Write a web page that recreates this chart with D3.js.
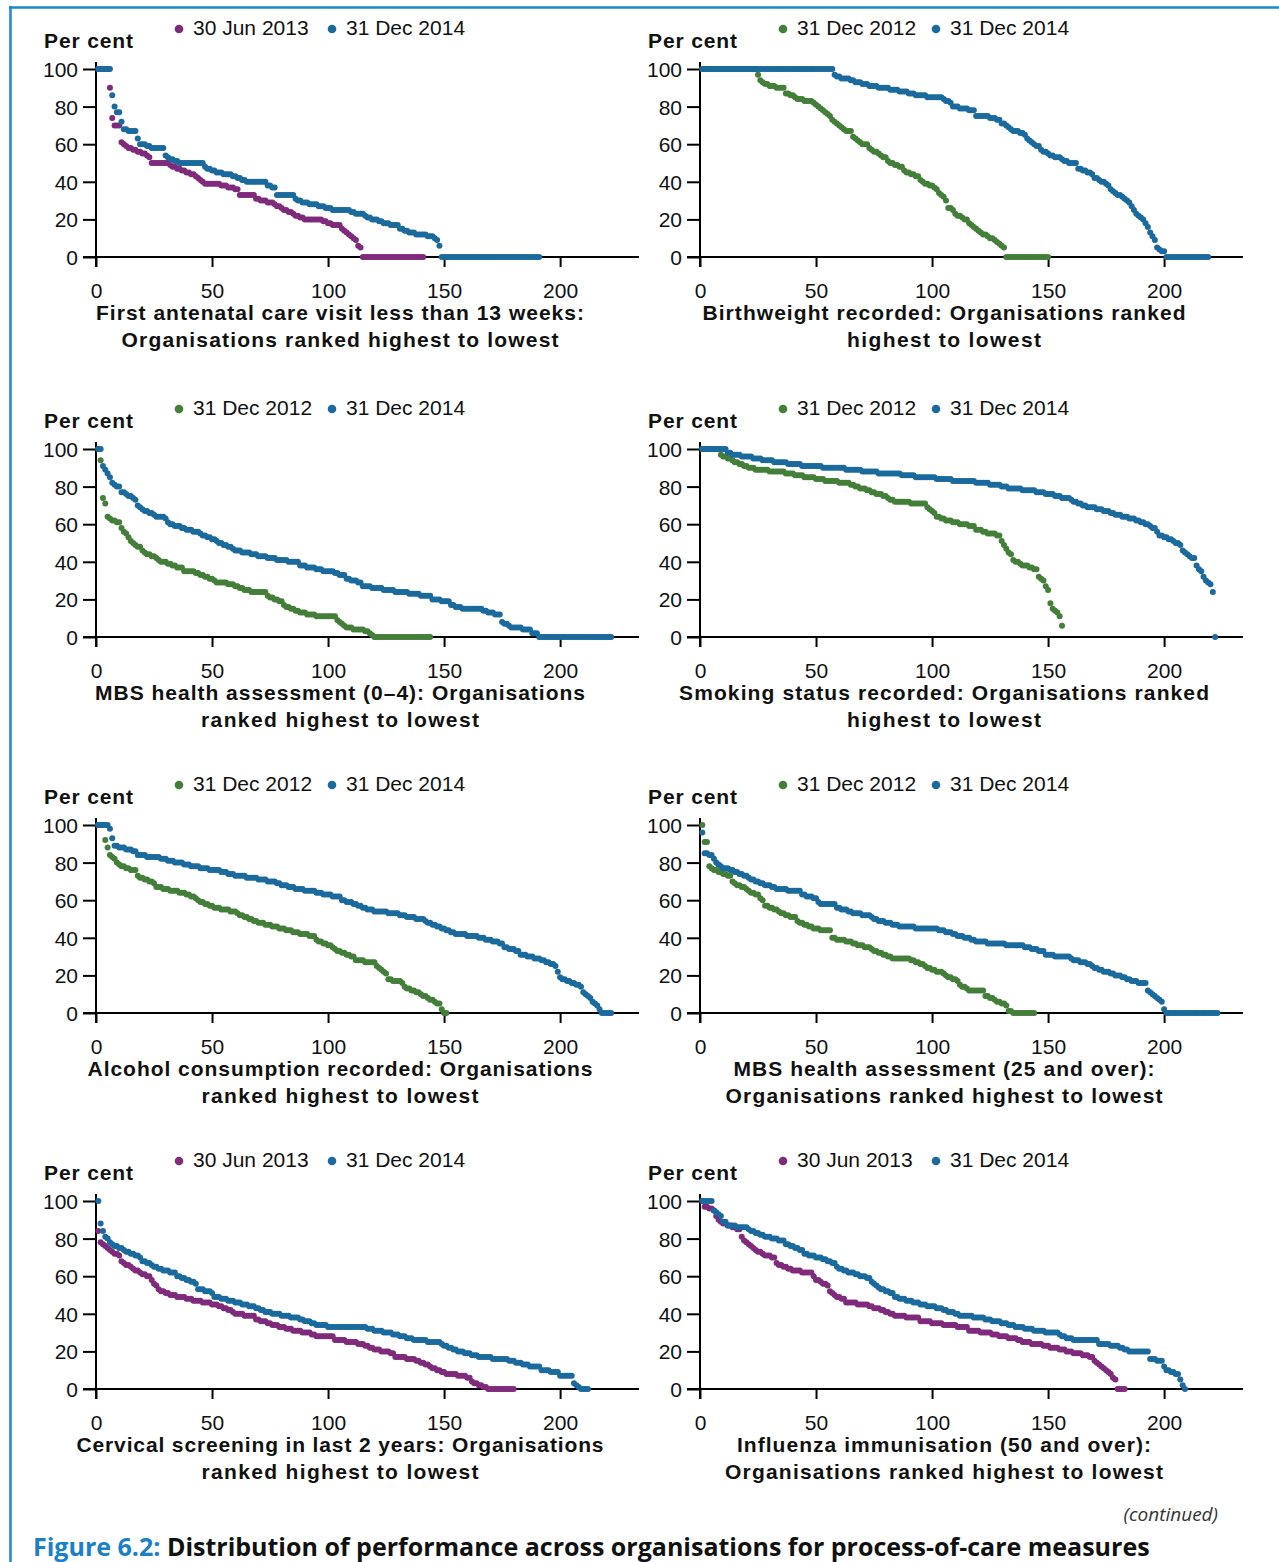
<!DOCTYPE html>
<html>
<head>
<meta charset="utf-8">
<script src="https://cdn.jsdelivr.net/npm/d3@7"></script>
<style>
  body { margin: 0; background: #fff; }
  svg { display: block; }
</style>
</head>
<body>
<svg id="chart" width="1279" height="1562"></svg>
<script>
// Distribution of performance across organisations - ranked dot plots
// Values are per cent for each organisation, ranked highest to lowest.
// [v, n] means the value v repeated for n organisations in a row.

const xTicks = [0, 50, 100, 150, 200];
const yTicks = [0, 20, 40, 60, 80, 100];

const panelTitles = [
    ['First antenatal care visit less than 13 weeks:', 'Organisations ranked highest to lowest'],
    ['Birthweight recorded: Organisations ranked', 'highest to lowest'],
    ['MBS health assessment (0\u20134): Organisations', 'ranked highest to lowest'],
    ['Smoking status recorded: Organisations ranked', 'highest to lowest'],
    ['Alcohol consumption recorded: Organisations', 'ranked highest to lowest'],
    ['MBS health assessment (25 and over):', 'Organisations ranked highest to lowest'],
    ['Cervical screening in last 2 years: Organisations', 'ranked highest to lowest'],
    ['Influenza immunisation (50 and over):', 'Organisations ranked highest to lowest']
];

const panelDates = [
    ['30 Jun 2013', '31 Dec 2014'],
    ['31 Dec 2012', '31 Dec 2014'],
    ['31 Dec 2012', '31 Dec 2014'],
    ['31 Dec 2012', '31 Dec 2014'],
    ['31 Dec 2012', '31 Dec 2014'],
    ['31 Dec 2012', '31 Dec 2014'],
    ['30 Jun 2013', '31 Dec 2014'],
    ['30 Jun 2013', '31 Dec 2014']
];

const antenatalJun13 = [[100,5],90,74,[70,3],61,60,59,58,58,57,57,56,56,55,55,54,53,[50,8],49,48,48,47,47,46,46,45,45,44,44,43,42,41,40,[39,7],38,38,38,37,37,37,36,36,[33,7],31,31,30,30,30,29,29,29,28,27,27,26,25,25,24,24,23,22,22,21,21,[20,8],19,19,18,18,[17,4],15,14,13,12,11,10,9,6,5,[0,27]];
const antenatalDec14 = [[100,6],86,80,77,77,72,68,68,67,67,67,67,63,60,60,60,59,59,[58,6],54,53,52,52,51,51,[50,11],48,47,47,46,46,45,45,45,44,44,44,44,43,43,42,42,41,41,[40,9],38,38,37,37,[33,8],31,30,30,29,29,29,28,28,28,28,27,27,27,26,26,26,25,[25,7],24,24,23,23,23,23,22,21,21,20,20,20,19,19,18,18,18,17,17,17,17,15,15,14,14,13,13,13,12,12,12,12,12,11,11,11,10,9,6,[0,43]];

const birthweightDec12 = [[100,24],97,94,93,92,92,91,91,91,90,90,90,90,87,87,86,86,85,84,84,84,83,83,83,83,82,81,80,79,78,77,76,75,73,72,71,70,69,68,67,67,67,64,63,62,61,60,60,60,58,57,56,56,55,54,53,53,51,50,50,49,49,48,48,46,45,45,44,44,43,43,41,40,39,39,38,38,37,36,34,33,32,30,26,26,25,23,22,22,21,20,20,18,17,16,15,14,13,12,12,11,10,10,9,8,7,6,5,[0,19]];
const birthweightDec14 = [[100,57],97,96,96,95,95,95,95,94,94,93,93,93,92,92,92,91,91,91,91,90,90,90,90,90,89,89,89,89,88,88,88,88,87,87,87,86,86,86,86,86,[85,7],84,83,83,82,80,80,80,79,79,79,79,78,78,78,75,75,75,75,75,75,74,74,74,73,73,71,71,70,69,68,67,67,67,66,66,65,63,62,61,60,59,59,57,56,56,55,54,54,53,53,53,52,51,51,50,50,50,50,47,47,46,46,45,45,44,42,42,41,40,40,39,38,36,35,34,33,33,32,31,30,29,27,25,23,22,21,20,18,16,13,11,9,5,4,3,3,[0,19]];

const mbs04Dec12 = [100,94,74,71,64,63,62,62,61,61,58,56,55,53,51,50,49,48,48,46,45,44,44,43,43,42,41,40,40,40,39,39,38,38,37,37,37,35,35,35,35,35,34,34,33,33,32,32,31,31,30,29,29,29,29,29,28,28,28,27,27,26,26,25,25,25,[24,7],22,21,21,20,20,19,19,17,16,16,15,15,14,14,13,13,13,12,12,12,12,11,[11,8],9,8,7,6,5,5,5,4,4,4,4,4,3,3,2,1,[0,25]];
const mbs04Dec14 = [100,100,91,89,87,85,82,81,80,80,77,77,76,75,75,74,73,70,69,68,67,67,66,66,65,64,64,64,64,63,61,60,60,59,59,59,58,58,57,57,57,56,56,56,55,54,54,53,53,52,52,51,50,50,49,49,48,48,47,46,46,46,45,45,45,45,44,44,44,43,43,43,43,42,42,42,42,41,41,41,41,41,40,40,40,40,40,38,38,38,37,37,37,37,36,36,36,35,35,35,35,35,34,34,33,33,33,31,31,30,30,30,29,29,27,27,27,27,26,26,26,26,26,25,25,25,25,25,24,24,24,24,24,24,23,23,23,23,23,22,22,22,22,22,20,20,20,20,19,19,19,19,17,17,16,16,16,[15,9],14,14,13,13,13,12,12,12,8,7,7,6,5,5,5,5,5,4,4,4,4,2,2,2,[0,32]];

const smokingDec12 = [[100,8],97,96,96,95,95,94,93,93,92,92,91,91,90,90,90,89,89,89,89,89,89,88,88,88,88,88,88,88,87,87,87,87,86,86,86,86,85,85,85,85,85,84,84,84,84,83,83,83,83,83,83,82,82,82,82,82,81,81,80,80,79,79,79,78,78,77,77,76,76,76,75,75,74,73,73,72,72,[72,5],[71,7],69,68,67,66,64,64,63,63,62,62,62,61,61,61,60,60,60,60,59,59,59,57,57,57,56,56,55,55,55,55,54,54,51,49,47,45,44,41,40,40,39,38,38,38,37,37,36,36,32,31,30,27,25,18,15,14,13,11,6];
const smokingDec14 = [[100,11],98,98,97,97,97,97,96,96,96,96,96,95,95,95,95,94,94,94,94,94,93,93,93,93,93,93,92,92,92,92,92,92,91,91,91,91,91,[91,4],[90,10],[89,7],[88,7],[87,10],[86,6],[85,9],[84,7],[83,10],[82,6],[81,5],[80,3],[79,6],[78,6],[77,4],[76,4],75,75,75,74,74,74,74,73,72,72,71,71,70,70,69,69,69,69,68,68,68,67,67,67,66,66,65,65,65,64,64,64,63,63,63,62,62,61,61,60,60,59,58,58,56,54,54,53,53,52,52,51,50,50,49,46,45,44,43,42,42,38,36,35,32,30,29,28,24,0];

const alcoholDec12 = [[100,3],92,88,84,83,82,80,79,78,78,77,77,76,76,76,73,72,72,71,71,70,70,69,67,67,67,66,66,66,65,65,65,65,64,64,64,63,63,62,62,61,60,59,59,58,58,57,57,56,56,56,55,55,55,55,54,54,54,53,52,52,51,51,50,50,49,49,48,48,48,47,47,47,46,46,46,45,45,45,44,44,44,43,43,43,42,42,42,42,41,41,41,39,38,38,37,37,36,36,35,34,33,33,32,32,31,31,30,30,28,28,28,28,27,27,27,27,27,25,24,23,22,21,18,18,17,17,17,17,16,14,13,13,12,12,11,11,10,9,9,8,7,7,6,5,5,2,0,0];
const alcoholDec14 = [[100,5],98,93,89,89,88,88,88,87,87,87,86,86,84,84,84,84,83,83,83,83,83,83,82,82,82,81,81,81,80,80,80,80,79,79,79,78,78,78,78,77,77,77,77,76,76,76,76,76,75,75,75,74,74,74,73,73,73,73,73,72,72,72,72,72,71,71,71,71,70,70,70,70,69,69,68,68,68,67,67,67,66,66,66,66,65,65,65,65,65,64,64,64,63,63,63,63,62,62,62,62,60,60,59,59,59,58,58,57,57,56,56,55,55,55,54,54,54,54,54,54,53,53,53,53,53,52,52,52,51,51,51,51,50,50,50,50,49,48,48,47,47,46,46,45,45,44,44,43,43,42,42,42,42,42,41,41,41,41,41,40,40,40,39,39,39,38,38,38,37,37,35,35,34,34,34,33,33,31,31,31,30,30,30,29,29,29,28,28,27,27,26,26,25,22,19,18,18,17,17,16,16,15,15,14,11,10,9,8,6,5,4,2,[0,5]];

const mbs25Dec12 = [100,91,91,78,77,76,76,75,75,74,74,73,73,70,69,68,68,67,67,66,65,64,64,63,63,61,60,57,57,56,56,55,55,54,53,53,52,52,51,51,51,49,48,48,47,47,46,46,45,45,45,44,44,44,44,44,40,40,39,39,39,39,38,38,38,37,37,36,36,36,35,35,35,34,33,33,32,32,31,31,30,30,29,[29,7],28,28,27,27,26,26,25,24,24,23,23,22,22,22,21,20,19,19,18,18,17,15,14,14,13,[12,7],9,9,8,8,7,6,6,5,5,4,1,1,[0,10]];
const mbs25Dec14 = [96,85,85,84,84,82,80,79,78,77,77,77,76,76,75,75,74,74,73,73,72,71,71,70,70,69,69,68,68,68,67,67,[66,5],[65,6],63,63,62,62,62,61,61,59,58,58,58,58,58,58,58,56,56,55,55,55,54,54,53,53,53,53,52,52,52,52,51,50,50,49,49,49,48,48,48,47,47,47,46,46,46,[46,4],[45,9],45,44,44,44,43,43,43,42,42,41,41,41,40,40,40,39,39,38,38,38,38,38,37,37,37,37,37,37,37,37,36,36,36,36,36,36,36,36,35,35,35,34,34,34,33,33,33,31,31,31,31,30,30,30,30,30,30,30,29,28,28,28,27,27,27,26,26,25,24,24,23,23,22,22,22,21,21,20,20,20,19,19,18,18,17,17,17,16,16,16,16,12,11,10,9,8,7,6,2,[0,23]];

const cervicalJun13 = [84,78,77,76,75,74,73,72,72,71,68,67,66,66,65,64,63,63,62,61,61,60,60,58,56,55,53,52,52,51,51,50,50,50,49,49,49,49,48,48,48,47,47,47,47,46,46,46,46,45,45,45,44,44,43,43,42,42,41,40,40,40,40,39,39,39,39,39,37,37,36,36,36,35,35,34,34,34,33,33,33,32,32,32,31,31,31,31,30,30,30,30,29,29,[28,8],26,26,26,26,26,25,25,25,25,25,24,24,24,23,23,22,22,21,21,21,20,20,20,20,19,19,17,17,17,17,17,16,16,16,16,15,15,14,14,13,13,12,11,11,10,10,9,9,8,8,8,8,8,7,7,7,7,6,6,4,3,3,2,2,1,1,[0,12]];
const cervicalDec14 = [100,88,84,81,80,78,77,76,76,75,75,74,73,73,72,72,71,71,70,68,68,67,67,66,65,65,64,64,63,63,63,62,62,62,60,60,59,59,58,58,57,57,56,53,53,53,52,52,52,51,49,49,49,48,48,48,47,47,47,46,46,46,45,45,45,44,44,44,43,43,42,42,41,41,41,40,40,40,40,39,39,39,39,38,38,38,38,37,37,36,36,36,35,35,34,34,34,34,34,33,33,33,33,33,33,[33,11],32,32,32,31,31,31,31,30,30,30,30,29,29,29,28,28,28,27,27,27,26,26,26,26,26,26,25,25,25,25,25,25,24,23,23,22,22,21,21,20,20,20,19,19,19,18,18,18,17,17,17,17,17,17,16,16,16,16,16,16,16,15,15,15,14,14,14,13,13,13,[12,5],10,10,10,10,9,9,9,9,[7,6],3,2,1,[0,4]];

const fluJun13 = [100,97,97,96,96,95,92,90,89,88,88,87,87,86,86,85,85,81,79,78,77,76,75,74,73,73,72,71,71,71,70,70,67,66,66,65,65,64,64,63,63,63,63,62,62,62,62,62,60,58,58,57,56,56,55,52,51,50,49,49,48,48,46,46,46,46,46,45,45,45,45,45,44,44,43,43,43,42,42,41,41,40,40,39,39,39,39,39,38,38,38,38,38,38,36,36,36,36,36,35,35,35,35,35,34,34,34,34,34,34,33,33,33,33,33,31,31,31,31,31,30,30,30,30,30,29,29,29,28,28,28,28,27,27,27,27,26,26,25,25,25,25,24,24,24,24,24,23,23,23,22,22,22,22,21,21,21,20,20,20,19,19,19,19,18,18,18,17,17,15,14,13,12,11,10,9,8,6,5,[0,4]];
const fluDec14 = [[100,5],95,94,93,92,89,89,87,87,87,87,86,86,86,86,86,85,84,84,83,83,82,82,81,81,81,80,80,80,79,79,79,77,77,76,76,75,75,74,74,72,72,71,71,71,70,70,70,69,69,68,68,67,67,65,64,64,63,63,62,62,62,61,61,60,60,60,59,59,57,56,55,54,53,53,52,52,51,51,49,49,48,48,48,47,47,47,46,46,46,45,45,45,44,44,44,44,43,43,43,42,42,41,41,41,40,40,39,39,39,39,39,39,38,38,38,38,38,37,37,37,36,36,36,36,35,35,35,34,34,34,33,33,33,33,32,32,32,32,31,31,31,31,31,30,30,30,30,30,30,29,28,28,27,27,27,26,26,[26,9],24,24,24,24,24,23,23,23,23,22,22,21,21,20,[20,8],16,16,16,15,15,15,12,10,10,9,9,8,8,5,2,0];

// ---- styling / layout ----
const BLUE = '#1b6a9d';
const PURPLE = '#7f2a7b';
const GREEN = '#437f39';
const FONT = "'Liberation Sans', Arial, sans-serif";

const expand = runs => runs.flatMap(d => Array.isArray(d) ? Array(d[1]).fill(d[0]) : [d]);

const panelSeries = [
    [antenatalJun13, antenatalDec14],
    [birthweightDec12, birthweightDec14],
    [mbs04Dec12, mbs04Dec14],
    [smokingDec12, smokingDec14],
    [alcoholDec12, alcoholDec14],
    [mbs25Dec12, mbs25Dec14],
    [cervicalJun13, cervicalDec14],
    [fluJun13, fluDec14]
];

// measured widths of the two title lines in each panel
const titleWidths = [[488, 437], [483, 194], [490, 278], [530, 194], [505, 277], [421, 437], [527, 277], [414, 438]];

const colX = [96, 700];
const rowZero = [257, 637, 1013, 1389];
const plotH = 188;
const plotW = 543;

const svg = d3.select('#chart');

// blue frame on top and left
svg.append('line')
    .attr('x1', 9).attr('y1', 7.5).attr('x2', 1279).attr('y2', 7.5)
    .attr('stroke', '#1a88d1').attr('stroke-width', 2.5);
svg.append('line')
    .attr('x1', 10.5).attr('y1', 6).attr('x2', 10.5).attr('y2', 1562)
    .attr('stroke', '#1a88d1').attr('stroke-width', 2.5);

panelSeries.forEach((pair, i) => {
    const col = i % 2;
    const row = Math.floor(i / 2);
    const ax = colX[col];
    const y0 = rowZero[row];
    const yTop = y0 - plotH;
    const older = panelDates[i][0].startsWith('30 Jun') ? PURPLE : GREEN;
    const colors = [older, BLUE];

    const x = d3.scaleLinear().domain([0, 234]).range([ax, ax + plotW]);
    const y = d3.scaleLinear().domain([0, 100]).range([y0, yTop]);

    const g = svg.append('g').attr('class', 'panel');

    // y axis
    const yAxis = g.append('g')
        .attr('transform', `translate(${ax},0)`)
        .call(d3.axisLeft(y).tickValues(yTicks).tickSize(13).tickSizeOuter(0));
    yAxis.select('.domain').remove();
    yAxis.selectAll('line').attr('stroke', '#000').attr('stroke-width', 2);
    yAxis.selectAll('text')
        .attr('x', -18)
        .attr('dy', '0.36em')
        .attr('fill', '#111')
        .style('font-family', FONT)
        .style('font-size', '21px');

    // x axis
    const xAxis = g.append('g')
        .attr('transform', `translate(0,${y0})`)
        .call(d3.axisBottom(x).tickValues(xTicks).tickSize(10).tickSizeOuter(0));
    xAxis.select('.domain').remove();
    xAxis.selectAll('line').attr('stroke', '#000').attr('stroke-width', 2);
    xAxis.selectAll('text')
        .attr('y', 41)
        .attr('dy', 0)
        .attr('fill', '#111')
        .style('font-family', FONT)
        .style('font-size', '21px');

    g.append('line')
        .attr('x1', ax - 13).attr('x2', ax + plotW)
        .attr('y1', y0).attr('y2', y0)
        .attr('stroke', '#000').attr('stroke-width', 2);
    g.append('line')
        .attr('x1', ax).attr('x2', ax)
        .attr('y1', yTop - 7).attr('y2', y0 + 10)
        .attr('stroke', '#000').attr('stroke-width', 2);

    // dots, older series first so the latest sits on top
    pair.forEach((runs, s) => {
        const values = expand(runs);
        g.append('g')
            .selectAll('circle')
            .data(values)
            .enter()
            .append('circle')
            .attr('cx', (d, k) => x(k + 1))
            .attr('cy', d => y(d))
            .attr('r', 3)
            .attr('fill', colors[s]);
    });

    // legend
    const legendX = [ax + 83, ax + 236];
    panelDates[i].forEach((label, s) => {
        g.append('circle')
            .attr('cx', legendX[s]).attr('cy', yTop - 40)
            .attr('r', 4.3)
            .attr('fill', colors[s]);
        g.append('text')
            .attr('x', legendX[s] + 14).attr('y', yTop - 34)
            .attr('fill', '#111')
            .style('font-family', FONT)
            .style('font-size', '21px')
            .text(label);
    });

    // y axis label
    g.append('text')
        .attr('x', ax - 52).attr('y', yTop - 21)
        .attr('textLength', 89)
        .attr('lengthAdjust', 'spacing')
        .attr('fill', '#111')
        .style('font-family', FONT)
        .style('font-size', '21px')
        .style('font-weight', 'bold')
        .text('Per cent');

    // x axis title, two lines
    panelTitles[i].forEach((line, l) => {
        g.append('text')
            .attr('x', ax + 244).attr('y', y0 + 63 + l * 27)
            .attr('text-anchor', 'middle')
            .attr('textLength', titleWidths[i][l])
            .attr('lengthAdjust', 'spacing')
            .attr('fill', '#111')
            .style('font-family', FONT)
            .style('font-size', '21px')
            .style('font-weight', 'bold')
            .text(line);
    });
});

// continued note
svg.append('text')
    .attr('x', 1218).attr('y', 1521)
    .attr('text-anchor', 'end')
    .attr('fill', '#333')
    .style('font-family', "'Open Sans', sans-serif")
    .style('font-size', '19px')
    .style('font-style', 'italic')
    .text('(continued)');

// figure caption
const caption = svg.append('text')
    .attr('x', 33).attr('y', 1556)
    .style('font-family', "'Open Sans', sans-serif")
    .style('font-size', '25px')
    .style('font-weight', 'bold');
caption.append('tspan').attr('fill', '#1a80c8').text('Figure 6.2: ');
caption.append('tspan').attr('fill', '#111')
    .text('Distribution of performance across organisations for process-of-care measures');
const capLen = caption.node().getComputedTextLength();
caption.style('font-size', (25 * 1117 / capLen).toFixed(2) + 'px');
</script>
</body>
</html>
